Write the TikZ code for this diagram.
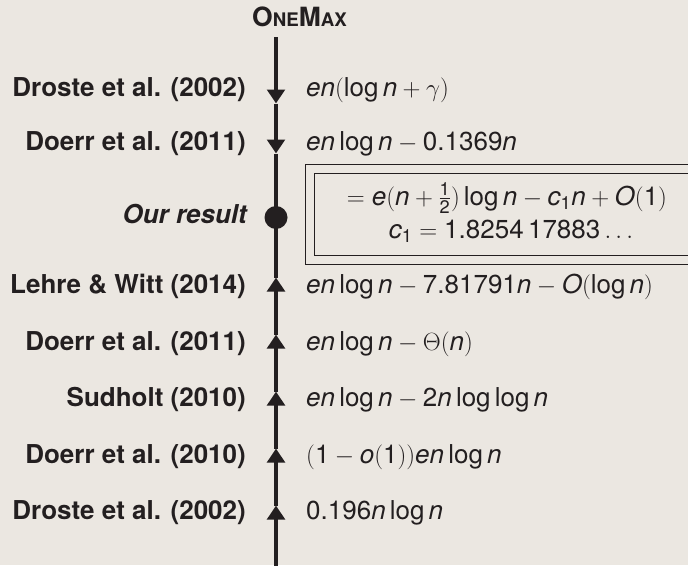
\documentclass[tikz,border=0pt]{standalone}
\usepackage{amsmath}
\usepackage{fontspec}
\setmainfont{TeX Gyre Heros}
\usetikzlibrary{arrows.meta}
\definecolor{bgc}{RGB}{235,231,225}
\definecolor{ink}{RGB}{35,31,32}
\newcommand\vv[1]{\textit{#1}}
\newcommand\nn[1]{\textup{#1}}
\newcommand\Lg{\mathop{\textup{log}}\nolimits}
\newcommand\smc{\fontsize{18.7}{20}\selectfont}
\begin{document}
\begin{tikzpicture}[x=1pt,y=-1pt,
  every node/.style={inner sep=0pt,text=ink,font=\fontsize{26}{31}\selectfont},
  lab/.style={anchor=base east,font=\fontsize{26}{31}\selectfont\bfseries},
  expr/.style={anchor=base west},
  axisline/.style={draw=ink,line width=4pt},
  axisarr/.style={axisline,-{Triangle[width=17.5pt,length=14pt]}},
  framebox/.style={draw=ink,line width=1.3pt}]
\clip (0,0) rectangle (688,565);
\fill[bgc] (0,0) rectangle (688,565);
% title
\node[anchor=base west,font=\fontsize{26.5}{31}\selectfont\bfseries] (title) at (252,26.7) {O{\smc NE}M{\smc AX}};
% axis coordinates
\coordinate (top) at (276,37.3);
\coordinate (d1) at (276,103.5);
\coordinate (d2) at (276,153.5);
\node[circle,fill=ink,minimum size=23pt] (dot) at (276,217.5) {};
\coordinate (u1) at (276,277.5);
\coordinate (u2) at (276,334.5);
\coordinate (u3) at (276,391.5);
\coordinate (u4) at (276,448.5);
\coordinate (u5) at (276,505.5);
\coordinate (bot) at (276,570);
\draw[axisarr] (top) -- (d1);
\draw[axisarr] (d1) -- (d2);
\draw[axisline] (d2) -- (dot.center);
\draw[axisline] (dot.center) -- (u1);
\draw[axisarr] (u2) -- (u1);
\draw[axisarr] (u3) -- (u2);
\draw[axisarr] (u4) -- (u3);
\draw[axisarr] (u5) -- (u4);
\draw[axisarr] (bot) -- (u5);
% double frame
\draw[framebox] (305.6,164.3) rectangle (720,264.3);
\draw[framebox] (314.4,173.3) rectangle (710,255.3);
% labels
\node[lab] (l1) at (246,96) {Droste et al. (2002)};
\node[lab] (l2) at (246,150) {Doerr et al. (2011)};
\node[lab,font=\fontsize{26}{31}\selectfont\bfseries\itshape] (l3) at (247,223) {Our result};
\node[lab] (l4) at (246,293) {Lehre \& Witt (2014)};
\node[lab] (l5) at (246,350) {Doerr et al. (2011)};
\node[lab] (l6) at (246,406.7) {Sudholt (2010)};
\node[lab] (l7) at (246,463) {Doerr et al. (2010)};
\node[lab] (l8) at (246,519.3) {Droste et al. (2002)};
% expressions
\node[expr] (e1) at (306,96) {$\vv{en}(\Lg\vv{n}+\gamma)$};
\node[expr] (e2) at (306,150) {$\vv{en}\Lg\vv{n}-\nn{0.1369}\vv{n}$};
\node[anchor=base] (r1) at (507,205) {$=\vv{e}(\vv{n}+\tfrac{\nn{1}}{\nn{2}})\Lg\vv{n}-\vv{c}_{\nn{1}}\vv{n}+\vv{O}(\nn{1})$};
\node[anchor=base] (r2) at (511,238.3) {$\vv{c}_{\nn{1}}=\nn{1.8254\,17883}\ldots$};
\node[expr] (e4) at (306,293) {$\vv{en}\Lg\vv{n}-\nn{7.81791}\vv{n}-\vv{O}(\Lg\vv{n})$};
\node[expr] (e5) at (306,350) {$\vv{en}\Lg\vv{n}-\Theta(\vv{n})$};
\node[expr] (e6) at (306,406.7) {$\vv{en}\Lg\vv{n}-\nn{2}\vv{n}\Lg\Lg\vv{n}$};
\node[expr] (e7) at (306,463) {$(\nn{1}-\vv{o}(\nn{1}))\vv{en}\Lg\vv{n}$};
\node[expr] (e8) at (306,519.3) {$\nn{0.196}\vv{n}\Lg\vv{n}$};
\end{tikzpicture}
\end{document}
